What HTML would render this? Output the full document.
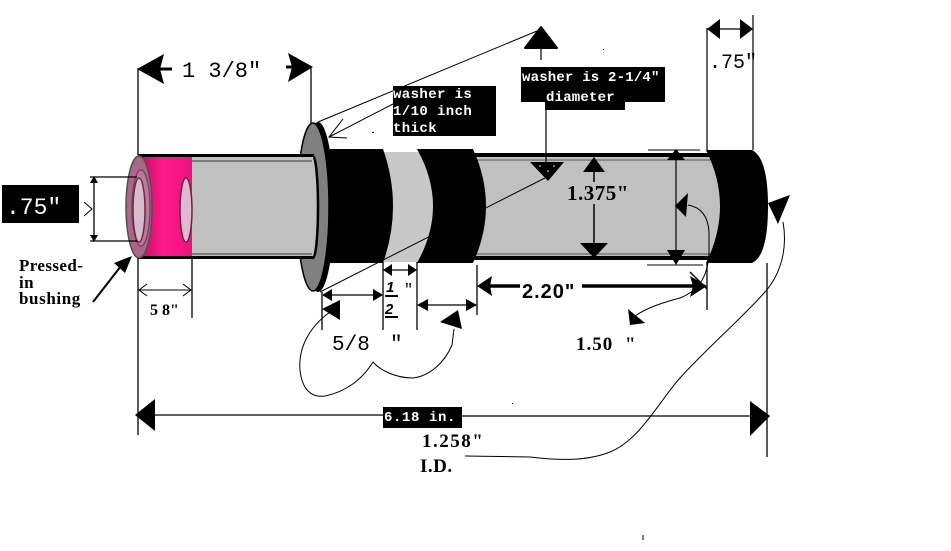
<!DOCTYPE html>
<html><head><meta charset="utf-8"><style>
html,body{margin:0;padding:0;background:#fff;}
svg{display:block;}
.mono{font-family:"Liberation Mono",monospace;}
.bm{font-family:"Liberation Mono",monospace;font-weight:bold;fill:#fff;font-size:14px;}
.bs{font-family:"Liberation Serif",serif;font-weight:bold;}
</style></head><body>
<svg width="951" height="551" viewBox="0 0 951 551" xmlns="http://www.w3.org/2000/svg">
<defs>
<linearGradient id="pk" x1="0" x2="1" y1="0" y2="0">
<stop offset="0" stop-color="#c0105f"/><stop offset="0.45" stop-color="#ff1a8a"/><stop offset="1" stop-color="#ee1080"/>
</linearGradient>
</defs>
<rect width="951" height="551" fill="#fff"/>

<!-- 1 3/8 dimension -->
<line x1="138" y1="68" x2="138" y2="155" stroke="#000" stroke-width="1.3"/>
<line x1="311" y1="67" x2="311" y2="123" stroke="#000" stroke-width="1.3"/>
<polygon points="137,69 164,54 160,69 164,84" fill="#000"/>
<line x1="158" y1="69" x2="172" y2="69" stroke="#000" stroke-width="3"/>
<text x="182" y="77" class="mono" font-size="22">1 3/8"</text>
<line x1="286" y1="67" x2="300" y2="67" stroke="#000" stroke-width="3"/>
<polygon points="313,67 288,53 292,67 288,82" fill="#000"/>

<!-- main tube (behind bands) -->
<rect x="470" y="155" width="258" height="104" fill="#c0c0c0"/>
<rect x="470" y="153" width="242" height="4" fill="#000"/>
<line x1="470" y1="160" x2="712" y2="160" stroke="#555" stroke-width="1"/>
<line x1="470" y1="254" x2="712" y2="254" stroke="#555" stroke-width="1"/>
<rect x="470" y="256" width="242" height="4" fill="#000"/>
<!-- right cap -->
<path d="M706,150 L752,150 Q768,158 768,206 Q768,256 752,263 L706,263 Q734,206 706,150 Z" fill="#000"/>

<!-- bands -->
<rect x="380" y="152" width="60" height="110" fill="#c8c8c8"/>
<path d="M417,149 L473,149 Q499,206 473,263 L417,263 Q449,206 417,149 Z" fill="#000"/>
<path d="M330,149 L383,149 Q403,206 383,263 L330,263 Z" fill="#000"/>

<!-- washer -->
<ellipse cx="318" cy="207" rx="16" ry="85" fill="#000"/>
<ellipse cx="313" cy="207" rx="16" ry="84" fill="#808080" stroke="#000" stroke-width="1.5"/>

<!-- left tube -->
<ellipse cx="313" cy="207" rx="5" ry="51" fill="#c0c0c0" stroke="#000" stroke-width="2.5"/>
<rect x="138" y="155" width="175" height="104" fill="#c0c0c0"/>
<rect x="138" y="154" width="176" height="3" fill="#000"/>
<line x1="150" y1="161" x2="312" y2="161" stroke="#333" stroke-width="1"/>
<line x1="150" y1="254" x2="312" y2="254" stroke="#333" stroke-width="1"/>
<rect x="138" y="256" width="176" height="3" fill="#000"/>
<rect x="140" y="157" width="52" height="99" fill="url(#pk)"/>
<ellipse cx="186" cy="210" rx="6" ry="32" fill="#e4b8cc" stroke="#702048" stroke-width="1.5"/>
<ellipse cx="139" cy="207" rx="13" ry="51" fill="#a8688a" stroke="#505050" stroke-width="1.5"/>
<ellipse cx="141" cy="208" rx="9" ry="38" fill="#c07898" stroke="#7a3a5a" stroke-width="1.2"/>
<ellipse cx="139" cy="210" rx="6" ry="32" fill="#d9bccb" stroke="#603048" stroke-width="1.5"/>

<!-- .75 left box -->
<rect x="2" y="185" width="77" height="38" fill="#000"/>
<text x="6" y="214" class="mono" font-size="23" fill="#fff">.75"</text>
<line x1="94" y1="178" x2="94" y2="240" stroke="#000" stroke-width="1.3"/>
<line x1="90" y1="177" x2="137" y2="177" stroke="#000" stroke-width="1.2"/>
<line x1="90" y1="241" x2="137" y2="241" stroke="#000" stroke-width="1.2"/>
<polygon points="94,176 90,183 98,183" fill="#000"/>
<polygon points="94,242 90,235 98,235" fill="#000"/>
<polyline points="84,202 92,209 84,216" fill="none" stroke="#000" stroke-width="1"/>

<!-- pressed-in bushing -->
<text x="19" y="271" class="bs" font-size="17" letter-spacing="0.4">Pressed-</text>
<text x="19" y="288" class="bs" font-size="17" letter-spacing="0.4">in</text>
<text x="19" y="304" class="bs" font-size="17" letter-spacing="0.6">bushing</text>
<line x1="93" y1="302" x2="121" y2="266" stroke="#000" stroke-width="2"/>
<polygon points="132,256 114,263 125,273" fill="#000"/>

<!-- 5 8 dim -->
<line x1="138" y1="258" x2="138" y2="435" stroke="#000" stroke-width="1.3"/>
<line x1="192" y1="258" x2="192" y2="318" stroke="#000" stroke-width="1.3"/>
<line x1="139" y1="290" x2="191" y2="290" stroke="#000" stroke-width="1"/>
<polyline points="147,284 139,290 147,296" fill="none" stroke="#000" stroke-width="1"/>
<polyline points="183,284 191,290 183,296" fill="none" stroke="#000" stroke-width="1"/>
<text x="150" y="315" class="bs" font-size="16">5 8"</text>

<!-- washer leader lines -->
<line x1="318" y1="122" x2="537" y2="31" stroke="#000" stroke-width="1"/>
<line x1="329" y1="137" x2="393" y2="104" stroke="#000" stroke-width="1"/>
<polyline points="343,119 329,137 347,138" fill="none" stroke="#000" stroke-width="1"/>
<line x1="320" y1="292" x2="545" y2="178" stroke="#000" stroke-width="1"/>
<rect x="372" y="132" width="2" height="1" fill="#000"/>

<!-- washer box 1 -->
<rect x="393" y="86" width="103" height="50" fill="#000"/>
<text x="393" y="98" class="bm" letter-spacing="0.4">washer is</text>
<text x="393" y="115" class="bm" letter-spacing="0.4">1/10 inch</text>
<text x="393" y="132" class="bm" letter-spacing="0.4">thick</text>

<!-- top triangle & box 2 -->
<polygon points="541,27 525,48 557,48" fill="#000" stroke="#000" stroke-width="2" stroke-linejoin="round"/>
<line x1="541" y1="48" x2="541" y2="60" stroke="#000" stroke-width="1.2"/>
<rect x="521" y="67" width="144" height="35" fill="#000"/>
<rect x="545" y="100" width="80" height="10" fill="#000"/>
<text x="522" y="81" class="bm" letter-spacing="0.2">washer is 2-1/4"</text>
<text x="546" y="101" class="bm" letter-spacing="0.2">diameter</text>
<rect x="603" y="49" width="1" height="1" fill="#000"/>
<line x1="546" y1="110" x2="546" y2="162" stroke="#000" stroke-width="1.2"/>
<polygon points="530,162 564,162 548,181" fill="#000"/>
<circle cx="540" cy="166" r="0.8" fill="#fff"/><circle cx="548" cy="171" r="0.8" fill="#fff"/><circle cx="554" cy="166" r="0.8" fill="#fff"/>

<!-- 1.375 dim -->
<line x1="594" y1="160" x2="594" y2="182" stroke="#000" stroke-width="1.5"/>
<line x1="594" y1="204" x2="594" y2="256" stroke="#000" stroke-width="1.5"/>
<polygon points="594,157 583,172 605,172" fill="#000"/>
<polygon points="594,258 580,243 608,243" fill="#000"/>
<text x="567" y="200" class="bs" font-size="21" letter-spacing="0.5">1.375"</text>

<!-- right dims -->
<line x1="648" y1="150" x2="700" y2="150" stroke="#000" stroke-width="1"/>
<line x1="647" y1="265" x2="703" y2="265" stroke="#000" stroke-width="1"/>
<line x1="676" y1="155" x2="676" y2="260" stroke="#000" stroke-width="1.2"/>
<polygon points="676,149 667,160 685,160" fill="#000"/>
<polygon points="676,265 667,250 685,250" fill="#000"/>
<line x1="707" y1="28" x2="707" y2="150" stroke="#000" stroke-width="1.2"/>
<line x1="753" y1="15" x2="753" y2="150" stroke="#000" stroke-width="1.2"/>
<line x1="710" y1="29" x2="750" y2="29" stroke="#000" stroke-width="1.2"/>
<polygon points="707,29 720,19 720,39" fill="#000"/>
<polygon points="753,29 740,19 740,39" fill="#000"/>
<text x="709" y="68" class="mono" font-size="20">.75"</text>

<!-- 1/2 dim -->
<line x1="383" y1="262" x2="383" y2="330" stroke="#000" stroke-width="1.3"/>
<line x1="417" y1="262" x2="417" y2="330" stroke="#000" stroke-width="1.3"/>
<line x1="384" y1="270" x2="416" y2="270" stroke="#000" stroke-width="1.2"/>
<polygon points="383,270 392,264 392,276" fill="#000"/>
<polygon points="417,270 408,264 408,276" fill="#000"/>
<text x="386" y="292" font-family="Liberation Sans, sans-serif" font-weight="bold" font-style="italic" font-size="15">1</text>
<line x1="385" y1="296" x2="398" y2="296" stroke="#000" stroke-width="2"/>
<text x="385" y="314" font-family="Liberation Sans, sans-serif" font-weight="bold" font-style="italic" font-size="15">2</text>
<line x1="385" y1="317" x2="398" y2="317" stroke="#000" stroke-width="2"/>
<text x="404" y="294" class="mono" font-size="15">"</text>

<!-- 5/8 dim -->
<line x1="322" y1="292" x2="322" y2="330" stroke="#000" stroke-width="1.3"/>
<line x1="323" y1="295" x2="382" y2="295" stroke="#000" stroke-width="1.2"/>
<polygon points="322,295 332,289 332,301" fill="#000"/>
<polygon points="383,295 373,289 373,301" fill="#000"/>
<polygon points="322,309 340,300 340,320" fill="#000"/>
<text x="332" y="350" class="mono" font-size="21">5/8</text>
<text x="390" y="350" class="mono" font-size="21">"</text>
<line x1="418" y1="305" x2="476" y2="305" stroke="#000" stroke-width="1.2"/>
<polygon points="417,305 428,299 428,311" fill="#000"/>
<polygon points="477,305 466,299 466,311" fill="#000"/>
<line x1="477" y1="265" x2="477" y2="315" stroke="#000" stroke-width="1.3"/>
<polygon points="440,322 458,310 462,329" fill="#000"/>
<path d="M330,312 C312,325 298,345 300,370 C302,390 312,398 325,396 C345,392 362,380 373,362 C380,370 395,378 413,378 C430,376 445,362 452,345 L454,329" fill="none" stroke="#000" stroke-width="1"/>

<!-- 2.20 dim -->
<line x1="490" y1="286" x2="520" y2="286" stroke="#000" stroke-width="3.5"/>
<line x1="582" y1="286" x2="695" y2="286" stroke="#000" stroke-width="3.5"/>
<polygon points="477,286 492,276 490,286 492,296" fill="#000"/>
<polygon points="707,286 690,276 693,286 690,297" fill="#000"/>
<line x1="690" y1="272" x2="707" y2="289" stroke="#000" stroke-width="1.5"/>
<line x1="707" y1="263" x2="707" y2="310" stroke="#000" stroke-width="1.3"/>
<text x="522" y="298" font-family="Liberation Sans, sans-serif" font-weight="bold" font-size="20" letter-spacing="1">2.20"</text>

<!-- 1.50 curve -->
<polygon points="675,206 688,193 686,217" fill="#000"/>
<path d="M688,205 C700,207 708,215 709,232 L709,253 C708,275 700,290 680,298 C665,302 648,307 635,316" fill="none" stroke="#000" stroke-width="1"/>
<polygon points="628,309 630,325 645,323" fill="#000"/>
<text x="576" y="350" class="bs" font-size="19" letter-spacing="1">1.50</text>
<text x="625" y="350" class="bs" font-size="19">"</text>

<!-- big curve -->
<polygon points="768,203 790,195 778,224" fill="#000"/>
<path d="M783,222 C788,250 780,275 765,292 C740,320 705,350 680,378 C660,400 640,440 610,452 C585,462 555,460 530,457 L465,456" fill="none" stroke="#000" stroke-width="1"/>

<!-- 6.18 dim -->
<line x1="150" y1="415" x2="383" y2="415" stroke="#000" stroke-width="1.2"/>
<line x1="462" y1="416" x2="755" y2="416" stroke="#000" stroke-width="1.2"/>
<polygon points="135,415 155,399 155,431" fill="#000"/>
<polygon points="770,416 750,401 750,436" fill="#000"/>
<line x1="767" y1="263" x2="767" y2="457" stroke="#000" stroke-width="1.3"/>
<rect x="383" y="407" width="79" height="21" fill="#000"/>
<text x="384" y="421" class="bm" font-size="13" letter-spacing="0.6">6.18 in.</text>
<rect x="512" y="403" width="1" height="1" fill="#000"/>

<text x="422" y="447" class="bs" font-size="19" letter-spacing="1.5">1.258"</text>
<text x="420" y="472" class="bs" font-size="19" letter-spacing="0.5">I.D.</text>
<line x1="643" y1="535" x2="643" y2="540" stroke="#000" stroke-width="1"/>
</svg>
</body></html>
